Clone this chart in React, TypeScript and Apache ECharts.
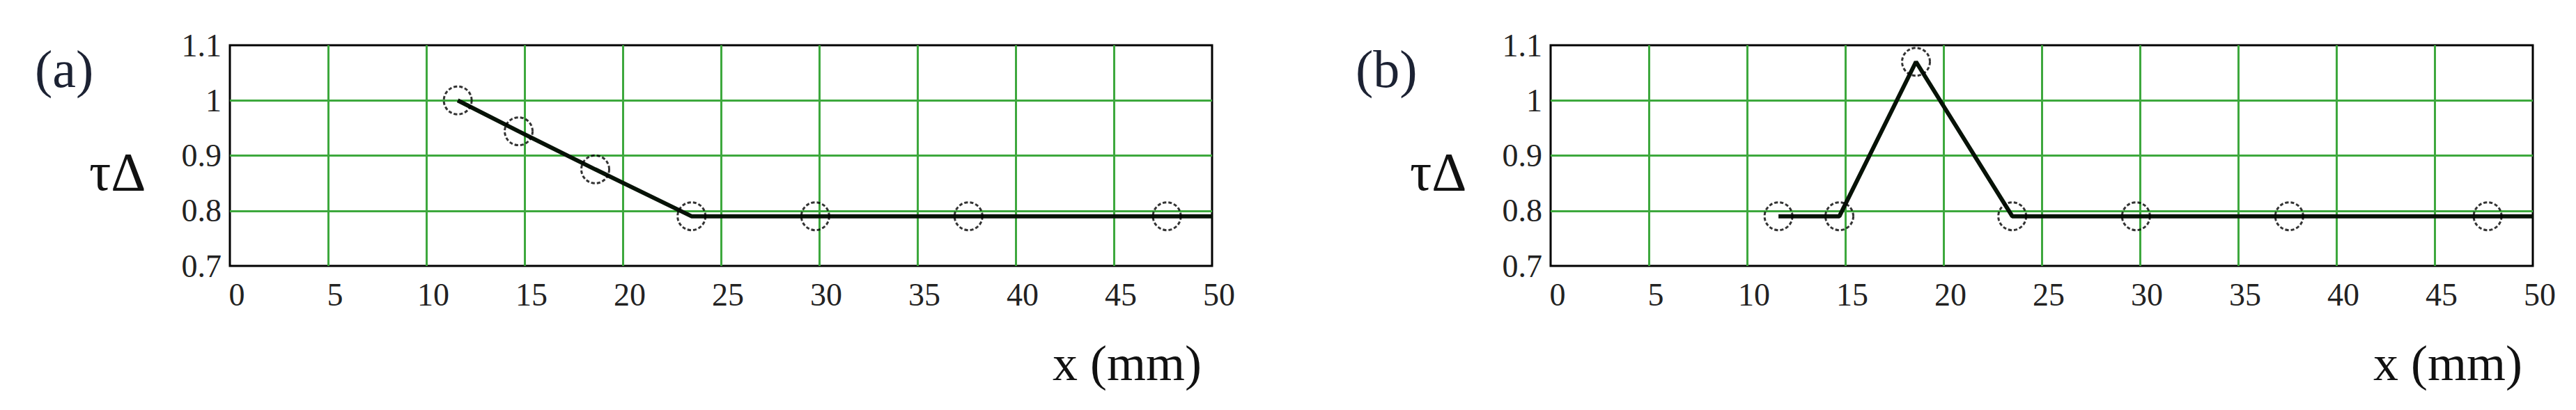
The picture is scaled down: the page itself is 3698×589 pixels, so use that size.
import React, { useEffect, useRef } from "react";
import * as echarts from "echarts";

// ---- data ----
const xPositions = [11.6, 14.7, 18.6, 23.5, 29.8, 37.6, 47.7];
const tauA = [1.0, 0.944, 0.875, 0.79, 0.79, 0.79, 0.79];
const tauB = [0.79, 0.79, 1.07, 0.79, 0.79, 0.79, 0.79];
const lineEndX = 50; // the curve continues flat to the right edge
const xMin = 0;
const xMax = 50;
const xStep = 5;
const yMin = 0.7;
const yMax = 1.1;
const yStep = 0.1;
const panelLabels = ["(a)", "(b)"];
const yTitle = "τΔ";
const xTitle = "x (mm)";

const FONT = "Liberation Serif";

const panels = [
  { left: 330, tau: tauA, label: panelLabels[0] },
  { left: 2226, tau: tauB, label: panelLabels[1] },
];
const PLOT_W = 1410;
const PLOT_TOP = 65;
const PLOT_H = 317;

export default function App() {
  const ref = useRef<HTMLDivElement>(null);
  useEffect(() => {
    if (!ref.current) return;
    const chart = echarts.init(ref.current, undefined, { renderer: "svg" });

    const grids = panels.map((p) => ({
      left: p.left,
      top: PLOT_TOP,
      width: PLOT_W,
      height: PLOT_H,
      show: true,
      borderColor: "#000",
      borderWidth: 3,
      backgroundColor: "#fff",
      containLabel: false,
    }));

    const xAxes = panels.map((_, i) => ({
      type: "value",
      gridIndex: i,
      min: xMin,
      max: xMax,
      interval: xStep,
      axisLine: { show: false },
      axisTick: { show: false },
      axisLabel: {
        fontFamily: FONT,
        fontSize: 46,
        color: "#222",
        margin: 18,
        padding: [0, 0, 0, 20],
      },
      splitLine: {
        show: true,
        showMinLine: false,
        showMaxLine: false,
        lineStyle: { color: "#3da83d", width: 3 },
      },
    }));

    const yAxes = panels.map((_, i) => ({
      type: "value",
      gridIndex: i,
      min: yMin,
      max: yMax,
      interval: yStep,
      axisLine: { show: false },
      axisTick: { show: false },
      axisLabel: {
        fontFamily: FONT,
        fontSize: 46,
        color: "#222",
        margin: 12,
        padding: [10, 0, 0, 0],
        formatter: (v: number) => String(Math.round(v * 10) / 10),
      },
      splitLine: {
        show: true,
        showMinLine: false,
        showMaxLine: false,
        lineStyle: { color: "#3da83d", width: 3 },
      },
    }));

    const series: any[] = [];
    panels.forEach((p, i) => {
      const pts = xPositions.map((x, k) => [x, p.tau[k]]);
      series.push({
        type: "line",
        xAxisIndex: i,
        yAxisIndex: i,
        data: [...pts, [lineEndX, p.tau[p.tau.length - 1]]],
        showSymbol: false,
        lineStyle: { color: "#071207", width: 6 },
        z: 3,
      });
      series.push({
        type: "scatter",
        xAxisIndex: i,
        yAxisIndex: i,
        data: pts,
        symbol: "circle",
        symbolSize: 40,
        itemStyle: {
          color: "rgba(0,0,0,0)",
          borderColor: "#000",
          borderWidth: 3,
          borderType: [5, 3],
        },
        z: 4,
      });
    });

    const graphic: any[] = [];
    panels.forEach((p) => {
      graphic.push({
        type: "text",
        x: p.left - 280,
        y: 99,
        style: {
          text: p.label,
          fontFamily: FONT,
          fontSize: 76,
          fill: "#1c2233",
          align: "left",
          verticalAlign: "middle",
        },
      });
      graphic.push({
        type: "text",
        x: p.left - 202,
        y: 246,
        style: {
          text: yTitle,
          fontFamily: FONT,
          fontSize: 78,
          fill: "#111",
          align: "left",
          verticalAlign: "middle",
        },
      });
      graphic.push({
        type: "text",
        x: p.left + PLOT_W - 15,
        y: 522,
        style: {
          text: xTitle,
          fontFamily: FONT,
          fontSize: 72,
          fill: "#111",
          align: "right",
          verticalAlign: "middle",
        },
      });
    });

    chart.setOption({
      animation: false,
      backgroundColor: "#fff",
      grid: grids,
      xAxis: xAxes,
      yAxis: yAxes,
      series,
      graphic,
    });
    return () => chart.dispose();
  }, []);

  return (
    <div
      ref={ref}
      style={{ position: "absolute", left: 0, top: 0, width: 3698, height: 589 }}
    />
  );
}
